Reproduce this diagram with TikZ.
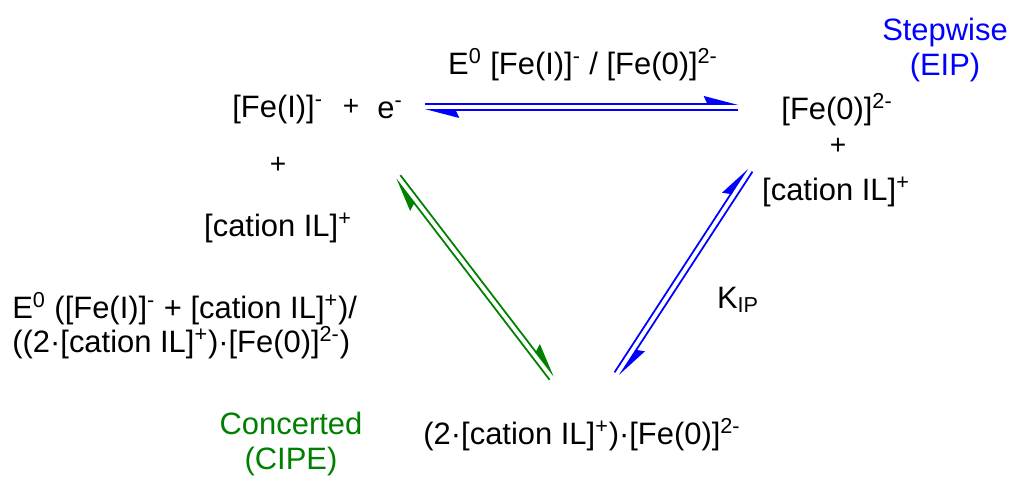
\documentclass[tikz,border=0pt]{standalone}
\usepackage{fontspec}
\setmainfont{Liberation Sans}
\usepackage{tikz}
\usetikzlibrary{arrows.meta, calc}
\definecolor{stepblue}{RGB}{0, 0, 255}
\definecolor{concgreen}{RGB}{0, 128, 0}

\begin{document}
\begin{tikzpicture}[x=0.02cm, y=0.02cm,
    chem/.style={inner sep=0pt, font=\fontsize{17.6}{20.4}\selectfont},
    smallplus/.style={inner sep=0pt, font=\fontsize{16}{18}\selectfont},
    eqhalf/.style={line width=1pt, -{Stealth[harpoon, length=17.5pt, width=9pt, inset=2pt]}}]
  \useasboundingbox (0, 0) rectangle (1011, 479);

  % species
  \node[chem, anchor=west] (feI) at (232, 369) { [Fe(I)]\textsuperscript{-} };
  \node[smallplus] (plusA) at (351, 372) { + };
  \node[chem, anchor=west] (elec) at (377, 369) { e\textsuperscript{-} };
  \node[smallplus] (plusB) at (278, 314) { + };
  \node[chem] (cationA) at (278, 251) { [cation IL]\textsuperscript{+} };

  \node[chem] (feZero) at (837, 369) { [Fe(0)]\textsuperscript{2-} };
  \node[smallplus] (plusC) at (838, 333) { + };
  \node[chem] (cationB) at (836, 287) { [cation IL]\textsuperscript{+} };

  \node[chem] (pair) at (582, 44) { (2·[cation IL]\textsuperscript{+})·[Fe(0)]\textsuperscript{2-} };

  % labels
  \node[chem] (eLabel) at (583, 414) { E\textsuperscript{0} [Fe(I)]\textsuperscript{-} / [Fe(0)]\textsuperscript{2-} };
  \node[chem, stepblue, align=center] (stepLabel) at (945, 429) { Stepwise\\(EIP) };
  \node[chem, concgreen, align=center] (concLabel) at (291, 35) { Concerted\\(CIPE) };
  \node[chem] (kip) at (738, 179) { K\textsubscript{IP} };
  \node[chem, anchor=west, align=left, font=\fontsize{17.6}{19.5}\selectfont] (cipeLabel) at (12, 153)
    { E\textsuperscript{0} ([Fe(I)]\textsuperscript{-} + [cation IL]\textsuperscript{+})/\\((2·[cation IL]\textsuperscript{+})·[Fe(0)]\textsuperscript{2-}) };

  % arrow ends
  \coordinate (topL) at (425, 372);
  \coordinate (topR) at (738, 372);
  \coordinate (grnT) at (398, 302);
  \coordinate (grnB) at (552, 101);
  \coordinate (bluB) at (617, 105);
  \coordinate (bluT) at (750, 309);

  \foreach \s/\t/\c in {topL/topR/stepblue, grnT/grnB/concgreen, bluB/bluT/stepblue} {
    \draw[eqhalf, \c] ($(\s)!1.7pt!90:(\t)$) -- ($(\t)!1.7pt!-90:(\s)$);
    \draw[eqhalf, \c] ($(\t)!1.7pt!90:(\s)$) -- ($(\s)!1.7pt!-90:(\t)$);
  }

\end{tikzpicture}
\end{document}
